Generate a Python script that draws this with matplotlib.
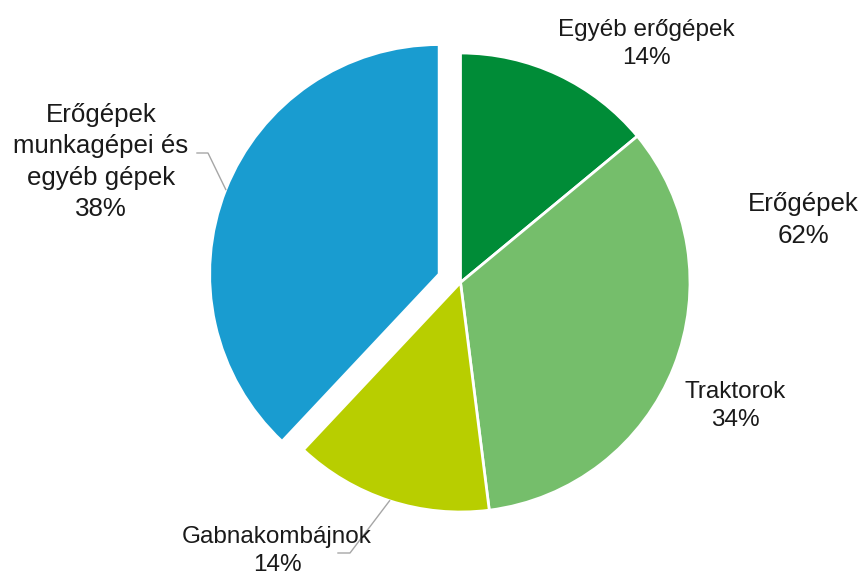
import matplotlib.pyplot as plt
import numpy as np

plt.rcParams['font.family'] = ['Liberation Sans', 'DejaVu Sans']

labels = ['Egyéb erőgépek', 'Traktorok', 'Gabnakombájnok',
          'Erőgépek\nmunkagépei és\negyéb gépek']
values = [14, 34, 14, 38]
colors = ['#008C37', '#75BE6B', '#B8CE00', '#199CD0']
explode = [0, 0, 0, 0.1]
group_label = 'Erőgépek'
group_value = 62

W, H = 865, 575
R = 229.5          # pie radius in pixels
CX, CY = 460.5, 282.5   # pie centre in pixels (from top-left)


def px(x, y):
    # pixel coords (from top-left) -> data coords
    return (x - CX) / R, (CY - y) / R


fig = plt.figure(figsize=(W / 100, H / 100), dpi=100)
ax = fig.add_axes([0, 0, 1, 1])

wedges, _ = ax.pie(values, colors=colors, explode=explode, startangle=90,
                   counterclock=False,
                   wedgeprops=dict(edgecolor='white', linewidth=2))

ax.set_xlim(px(0, 0)[0], px(W, 0)[0])
ax.set_ylim(px(0, H)[1], px(0, 0)[1])
ax.set_aspect('auto')
ax.axis('off')

txt = dict(ha='center', va='center', color='#1a1a1a', linespacing=1.4)

label_pos = [(646, 44), (735, 406), (277, 551), (101, 162)]
label_size = [17.5, 17.5, 17.5, 18.6]
for lab, val, pos, fs in zip(labels, values, label_pos, label_size):
    ax.text(*px(*pos), f'{lab}\n{val}%', fontsize=fs, **txt)

ax.text(*px(803, 220), f'{group_label}\n{group_value}%', fontsize=18.6,
        **txt)


def arc_point(w):
    mid = np.deg2rad((w.theta1 + w.theta2) / 2)
    return (w.center[0] + w.r * np.cos(mid), w.center[1] + w.r * np.sin(mid))


# leader lines for the outside labels
leaders = {3: [(208, 153), (197, 153)], 2: [(350, 553), (338, 553)]}
for i, pts in leaders.items():
    p0 = arc_point(wedges[i])
    xs = [p0[0]] + [px(*p)[0] for p in pts]
    ys = [p0[1]] + [px(*p)[1] for p in pts]
    ax.plot(xs, ys, color='#a6a6a6', lw=1)

fig.savefig('out.png', dpi=100)
